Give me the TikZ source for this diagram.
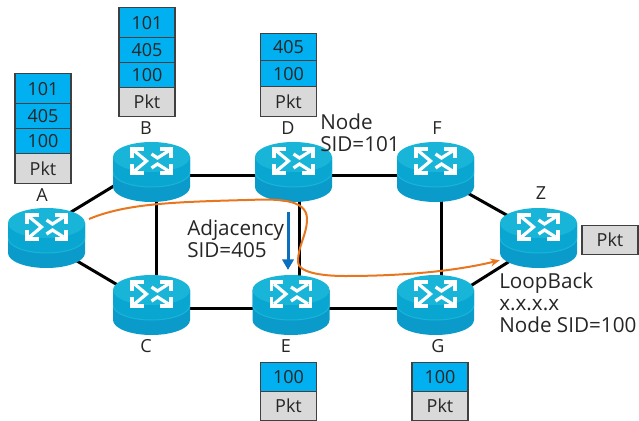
\documentclass[tikz,border=0pt]{standalone}
\usepackage{fontspec}
\setmainfont{Open Sans}
\usetikzlibrary{backgrounds,arrows.meta}
\definecolor{routertop}{HTML}{19B5D8}
\definecolor{routerside}{HTML}{0A9BCB}
\definecolor{routermid}{HTML}{0AA6D2}
\definecolor{labelblue}{HTML}{00B0F0}
\definecolor{pktgray}{HTML}{D9D9D9}
\definecolor{stackline}{HTML}{404040}
\definecolor{trafficorange}{HTML}{E8761E}
\definecolor{adjblue}{HTML}{0A70BE}
\begin{document}
\begin{tikzpicture}
        [
            x=0.75pt, y=-0.75pt,
            every node/.style={font=\fontsize{13.5}{16}\selectfont, text=black!85},
            router/.style={minimum width=57.75pt, minimum height=45pt, inner sep=0pt,
                path picture={
                    \fill[routerside] (-38.5,-15) -- (-38.5,15) arc[start angle=180, end angle=0, x radius=38.5, y radius=15] -- (38.5,-15) -- cycle;
                    \fill[routermid] (-38.5,-15) -- (-38.5,0) arc[start angle=180, end angle=0, x radius=38.5, y radius=15] -- (38.5,-15) -- cycle;
                    \draw[routertop, line width=0.75pt] (-38.5,0) arc[start angle=180, end angle=0, x radius=38.5, y radius=15];
                    \fill[routertop] (0,-15) ellipse[x radius=38.5, y radius=15];
                    % arrows of the icon
                    \draw[white, line width=2.4pt] (-19.5,-14) -- (-19.5,-23) -- (-8,-23);
                    \draw[white, line width=2.4pt] (19.5,-14) -- (19.5,-23) -- (8,-23);
                    \draw[white, line width=2.4pt] (-19.5,-8) -- (-19.5,1) -- (-8,1);
                    \draw[white, line width=2.4pt] (19.5,-8) -- (19.5,1) -- (8,1);
                    \draw[white, line width=2.4pt] (-17,-21) -- (-5,-11) -- (-17,-1);
                    \draw[white, line width=2.4pt] (17,-21) -- (6,-14) -- (0,-18);
                    \draw[white, line width=2.4pt] (17,-1) -- (6,-8) -- (0,-4);
                }},
            link/.style={draw=black, line width=2.25pt},
            labelcell/.style={draw=stackline, fill=labelblue, line width=1.1pt, minimum width=42pt, inner sep=0pt, anchor=north},
            pktcell/.style={labelcell, fill=pktgray},
            sidtext/.style={align=left, anchor=north west, inner sep=0pt, font=\fontsize{15.5}{16.5}\selectfont}
        ]
        \useasboundingbox (0,0) rectangle (639,421);

        % routers
        \node[router] (A) at (46.5,238) {};
        \node[router] (B) at (151.5,172) {};
        \node[router] (C) at (151.5,305) {};
        \node[router] (D) at (293.5,172) {};
        \node[router] (E) at (291,305) {};
        \node[router] (F) at (435.5,172) {};
        \node[router] (G) at (435.5,305) {};
        \node[router] (Z) at (538.5,238) {};

        \node (Aname) at (42,195) {A};
        \node (Bname) at (146,128) {B};
        \node (Cname) at (146,346) {C};
        \node (Dname) at (288,128) {D};
        \node (Ename) at (286,346) {E};
        \node (Fname) at (437,128) {F};
        \node (Gname) at (438,346) {G};
        \node (Zname) at (541,193) {Z};

        % links
        \begin{scope}[on background layer]
            \draw[link] ([shift={(0,-11)}]A.center) -- ([shift={(0,-9)}]B.center);
            \draw[link] ([shift={(0,5)}]A.center) -- (C.center);
            \draw[link] ([shift={(4.5,0)}]B.center) -- ([shift={(4.5,0)}]C.center);
            \draw[link] ([shift={(0,3)}]B.center) -- ([shift={(0,3)}]D.center);
            \draw[link] ([shift={(0,3)}]C.center) -- ([shift={(0,3)}]E.center);
            \draw[link] ([shift={(5.5,0)}]D.center) -- ([shift={(8,0)}]E.center);
            \draw[link] ([shift={(0,3)}]D.center) -- ([shift={(0,3)}]F.center);
            \draw[link] ([shift={(0,3)}]E.center) -- ([shift={(0,3)}]G.center);
            \draw[link] ([shift={(5.5,0)}]F.center) -- ([shift={(5.5,0)}]G.center);
            \draw[link] ([shift={(0,3)}]F.center) -- ([shift={(0,-5)}]Z.center);
            \draw[link] ([shift={(0,3)}]G.center) -- ([shift={(0,5)}]Z.center);
        \end{scope}

        % label stacks
        \node[labelcell, minimum height=22.5pt] (a1) at (43,73) {101};
        \node[labelcell, minimum height=18.75pt] (a2) at (43,103) {405};
        \node[labelcell, minimum height=18.75pt] (a3) at (43,128) {100};
        \node[pktcell, minimum height=22.5pt] (a4) at (43,153) {Pkt};

        \node[labelcell, minimum height=22.5pt] (b1) at (147,7) {101};
        \node[labelcell, minimum height=18.75pt] (b2) at (147,37) {405};
        \node[labelcell, minimum height=18.75pt] (b3) at (147,62) {100};
        \node[pktcell, minimum height=21.75pt] (b4) at (147,87) {Pkt};

        \node[labelcell, minimum height=20.25pt] (d1) at (288.5,33) {405};
        \node[labelcell, minimum height=19.5pt] (d2) at (288.5,60) {100};
        \node[pktcell, minimum height=22.5pt] (d3) at (288.5,86) {Pkt};

        \node[labelcell, minimum height=21.75pt] (e1) at (288.5,362) {100};
        \node[pktcell, minimum height=21.75pt] (e2) at (288.5,391) {Pkt};

        \node[labelcell, minimum height=21.75pt] (g1) at (440,362) {100};
        \node[pktcell, minimum height=21.75pt] (g2) at (440,391) {Pkt};

        \node[pktcell, minimum height=21.75pt] (z1) at (610,224.5) {Pkt};

        % paths
        \coordinate (start) at (89,219);
        \draw[trafficorange, line width=1.5pt, -{Stealth[length=7pt, width=6pt]}] (start)
            .. controls (125,204) and (170,202) .. (247,200)
            .. controls (275,199) and (307,198) .. (307,219)
            .. controls (307,235) and (298,245) .. (298,262)
            .. controls (298,272) and (320,276) .. (345,276)
            .. controls (410,276) and (460,270) .. ([yshift=6pt]Z.south west);
        \draw[adjblue, line width=2.25pt, -{Triangle[length=8pt, width=8.5pt]}] ([shift={(-5.5,40)}]D.center) -- ([shift={(-3,-35)}]E.center);

        \node[sidtext] (nodesid) at (320,114) {Node\\SID=101};
        \node[sidtext] (adjsid) at (187,220) {Adjacency\\SID=405};
        \node[sidtext] (loopback) at (499,272.5) {LoopBack\\x.x.x.x\\Node SID=100};
    \end{tikzpicture}
\end{document}
